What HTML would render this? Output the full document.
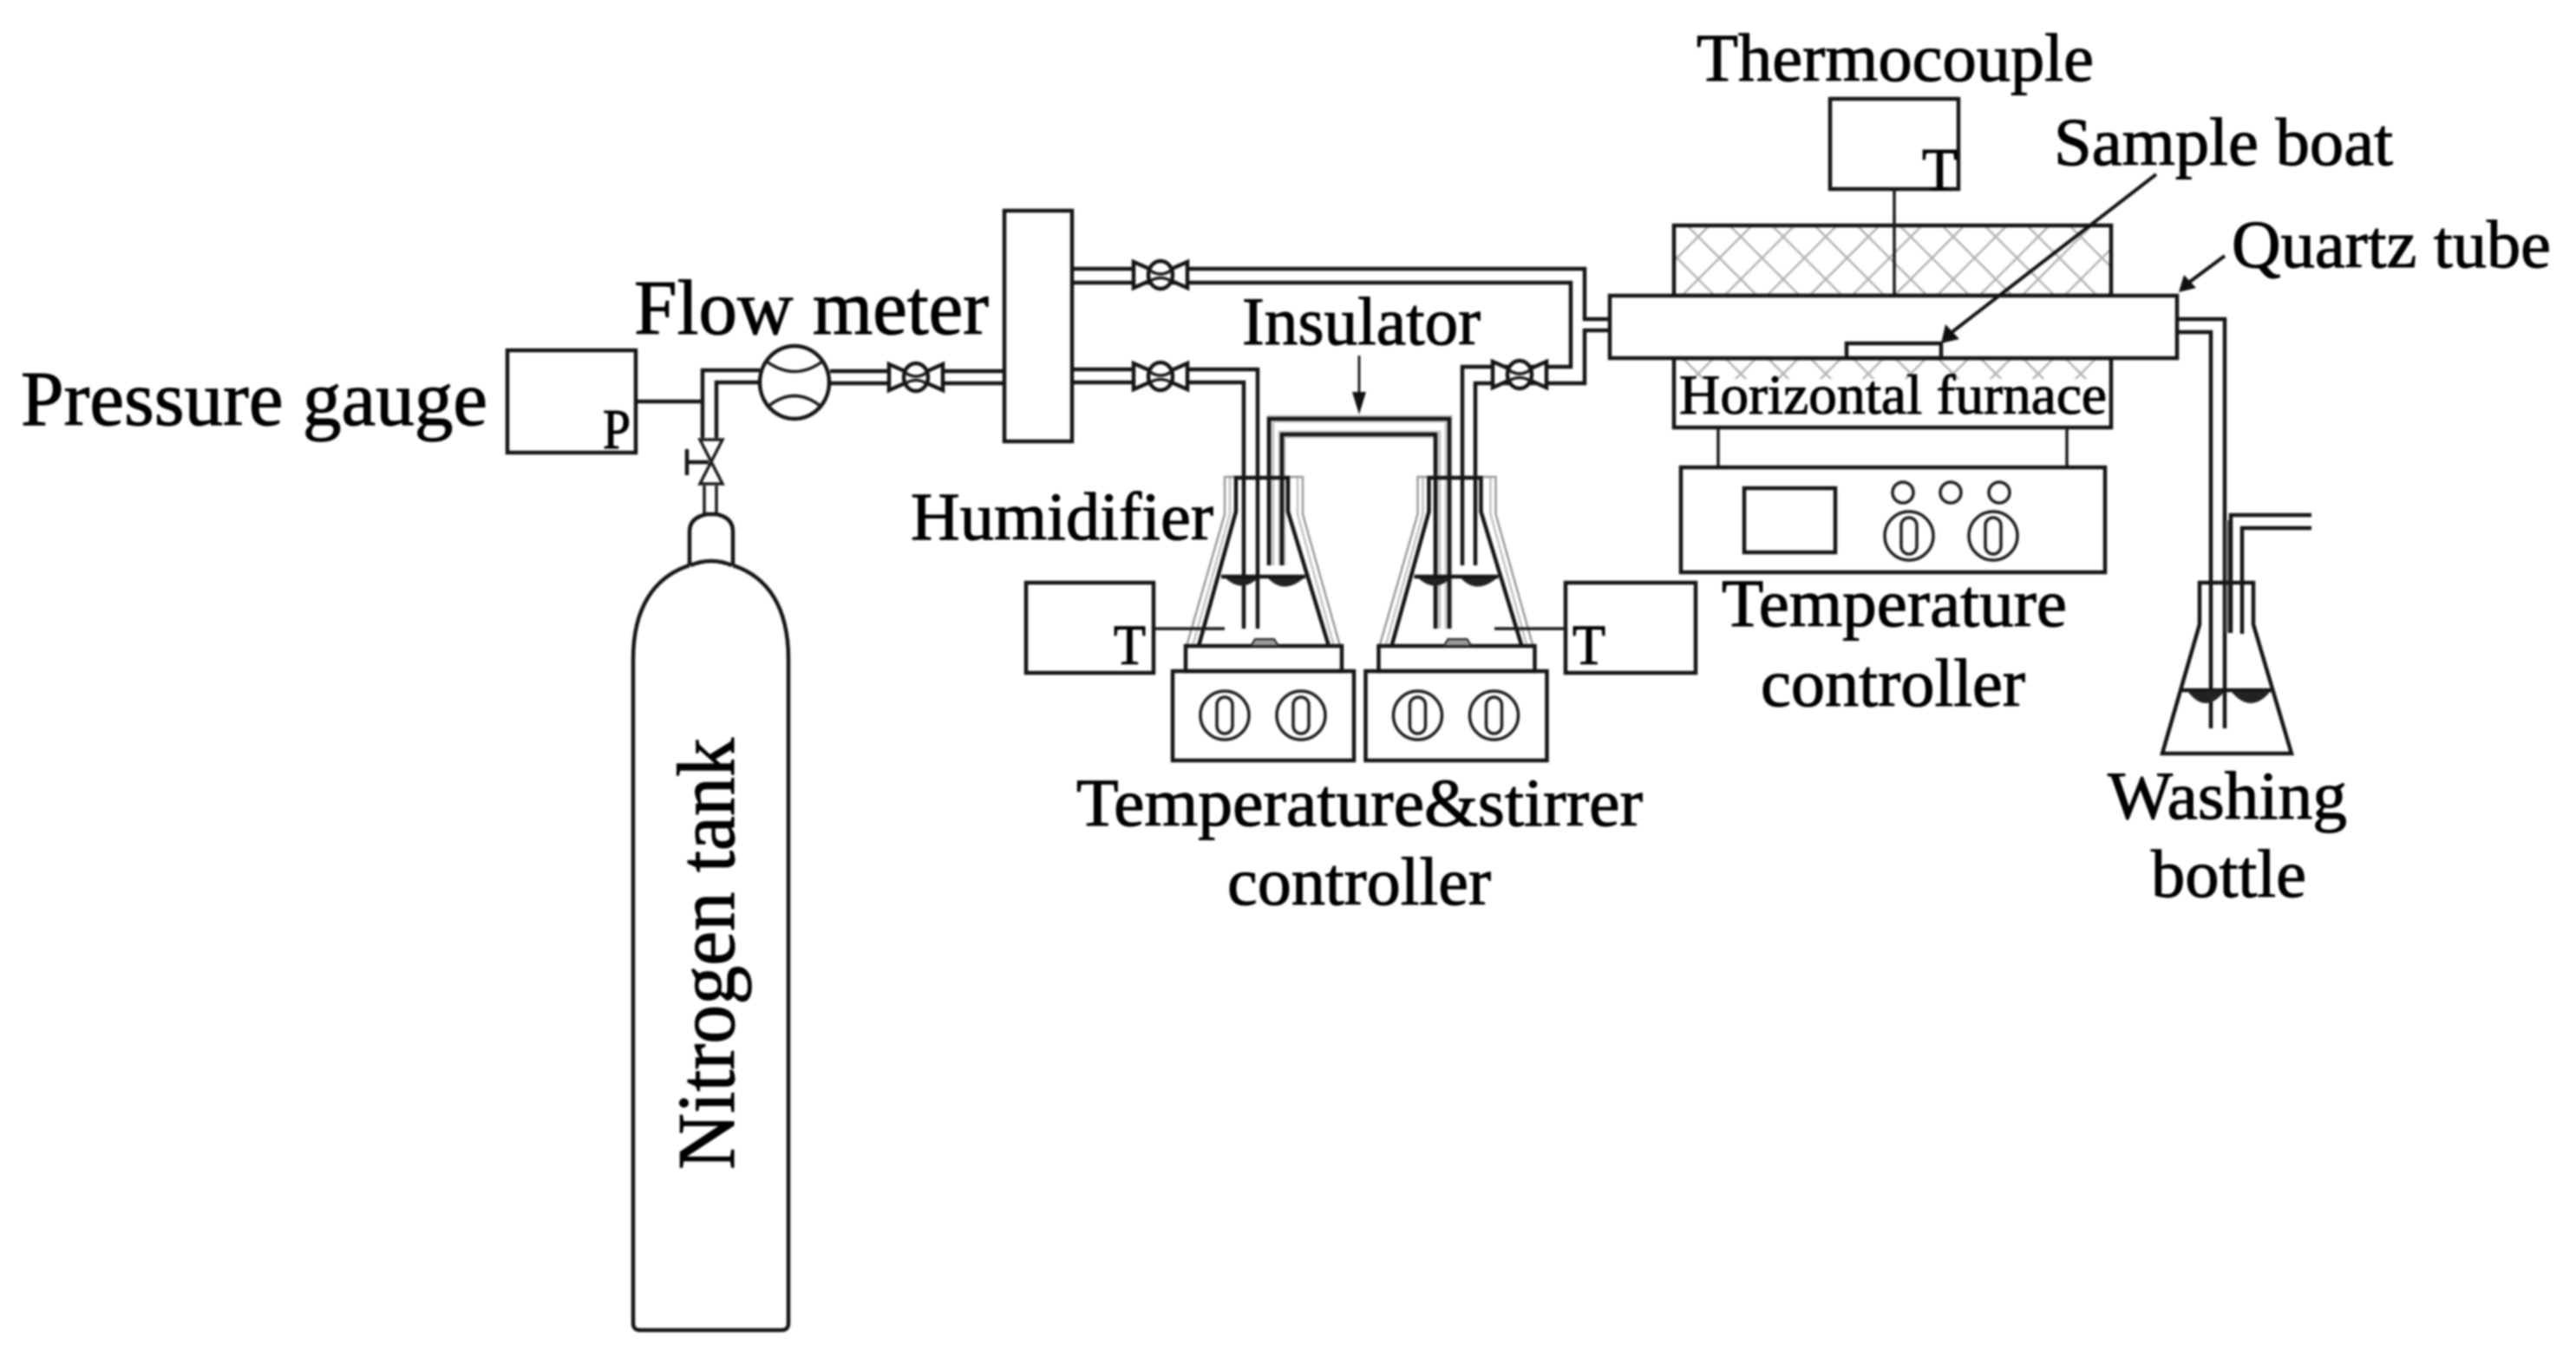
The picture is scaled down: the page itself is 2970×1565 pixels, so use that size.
<!DOCTYPE html>
<html><head><meta charset="utf-8"><style>
html,body{margin:0;padding:0;background:#fff;width:2970px;height:1565px;overflow:hidden}
svg{display:block;filter:blur(1.1px)}
text{font-family:"Liberation Serif",serif;fill:#000;stroke:#000;stroke-width:1.1px}
.l{fill:none;stroke:#141414;stroke-width:4.5}
.t{fill:none;stroke:#1c1c1c;stroke-width:3.5}
.g{fill:none;stroke:#9a9a9a;stroke-width:2.5}
</style></head><body>
<svg width="2970" height="1565" viewBox="0 0 2970 1565" xmlns="http://www.w3.org/2000/svg">
<defs>
<pattern id="h" patternUnits="userSpaceOnUse" x="1958" y="273" width="49" height="49">
<path d="M0,0L49,49M49,0L0,49" stroke="#b4b4b4" stroke-width="2.5" fill="none"/>
</pattern>
<pattern id="h2" patternUnits="userSpaceOnUse" x="1958" y="431" width="49" height="49">
<path d="M0,0L49,49M49,0L0,49" stroke="#b4b4b4" stroke-width="2.5" fill="none"/>
</pattern>
<g id="valve">
<path class="l" style="fill:#fff" d="M-31,-15 L-13,-7 V7 L-31,15 Z M31,-15 L13,-7 V7 L31,15 Z"/>
<ellipse rx="14" ry="16" class="l" style="fill:#fff"/>
<path class="t" d="M-12,-5 Q0,3 12,-5 M-12,7 Q0,0 12,7"/>
</g>
<g id="knob">
<circle r="28" class="t"/>
<rect x="-9" y="-21" width="18" height="42" rx="9" class="t"/>
</g>
<g id="flask">
<path class="g" d="M1368,745 L1412,593 V550 H1502 V593 L1545,745"/>
<path class="g" d="M1375,745 L1418,593 V550 M1496,550 V593 L1538,745" stroke-opacity=".6"/>
<path class="l" d="M1382,745 L1425,590 V551 H1485 V590 L1532,745"/>
<path class="l" d="M1408,665 H1505"/>
<path d="M1413,667 Q1432,684 1450,667 Z M1462,667 Q1480,686 1503,667 Z" fill="#222"/>
<rect x="1367" y="745" width="180" height="29" class="l"/>
<rect x="1352" y="774" width="209" height="103" class="l"/>
<path d="M1442,745 L1447,737 H1469 L1474,745 Z" fill="#999" stroke="#222" stroke-width="2"/>
<use href="#knob" x="1412" y="825"/>
<use href="#knob" x="1500" y="825"/>
</g>
</defs>

<!-- pressure gauge -->
<rect x="585" y="404" width="148" height="118" class="l"/>
<path class="l" d="M733,463 H808"/>
<!-- pipe to flow meter + valve -->
<path class="l" d="M876,427 H810 V505 M876,441 H826 V505"/>
<path class="t" d="M812,560 V593 M826,560 V593"/>
<!-- vertical valve -->
<path class="t" d="M807,507 H833 L807,558 H833 Z"/>
<path class="l" d="M793,533 H817 M792,518 V548"/>
<!-- cylinder -->
<path class="l" d="M795,652 V613 Q795,597 815,593 H826 Q845,597 845,613 V652"/>
<path class="l" d="M796,652 Q820,642 844,652"/>
<path class="l" d="M795,652 C755,665 730,700 730,760 V1526 Q730,1534 738,1534 H901 Q909,1534 909,1526 V760 C909,700 885,665 845,652"/>
<!-- flow meter -->
<ellipse cx="916" cy="441" rx="40" ry="42" class="l"/>
<path class="t" d="M884,417 Q916,440 948,417 M884,470 Q916,443 948,470"/>
<path class="l" d="M957,428 H1158 M957,442 H1158"/>
<use href="#valve" x="1056" y="435"/>
<!-- manifold -->
<rect x="1158" y="243" width="78" height="266" class="l"/>
<!-- lower pipe to humidifier 1 -->
<path class="l" d="M1236,426 H1450 V725 M1236,441 H1434 V725"/>
<use href="#valve" x="1338" y="434"/>
<!-- upper pipe -->
<path class="l" d="M1236,310 H1827 V368 H1856 M1856,381 H1827 V442 H1701 V652 M1236,326 H1811 V423 H1686 V652"/>
<use href="#valve" x="1338" y="317"/>
<use href="#valve" x="1752" y="432"/>
<!-- bridge -->
<path d="M1465,652 V483 H1670 V725 M1478,652 V501 H1657 V725" fill="none" stroke="#888" stroke-width="9" stroke-opacity=".45"/>
<path class="l" d="M1463,652 V483 H1671 V725 M1478,652 V501 H1655 V725"/>
<use href="#flask"/>
<use href="#flask" x="222.5"/>
<!-- T boxes -->
<rect x="1183" y="672" width="147" height="104" class="l"/>
<rect x="1805" y="672" width="150" height="104" class="l"/>
<path class="t" d="M1331,725 H1412 M1723,725 H1805"/>
<!-- insulator arrow -->
<path d="M1567,410 V470" stroke="#222" stroke-width="3" fill="none"/>
<path d="M1559,452 L1575,452 L1567,478 Z" fill="#111"/>
<!-- furnace -->
<rect x="1930" y="260" width="504" height="81" class="l" style="fill:url(#h)"/>
<rect x="1930" y="413" width="504" height="80" style="fill:url(#h2)"/>
<rect x="1930" y="437" width="504" height="56" fill="#fff"/>
<rect x="1930" y="413" width="504" height="80" class="l"/>
<rect x="2110" y="114" width="148" height="104" class="l"/>
<path class="t" d="M2184,218 V341"/>
<rect x="1856" y="341" width="654" height="72" class="l" style="fill:#fff"/>
<rect x="2129" y="396" width="109" height="17" class="l"/>
<path class="t" d="M1981,493 V540 M2383,493 V540"/>
<rect x="1938" y="539" width="489" height="121" class="l"/>
<rect x="2011" y="563" width="105" height="74" class="l"/>
<circle cx="2194" cy="568" r="12" class="t"/><circle cx="2249" cy="568" r="12" class="t"/><circle cx="2305" cy="568" r="12" class="t"/>
<use href="#knob" x="2201" y="618"/><use href="#knob" x="2298" y="618"/>
<!-- arrows -->
<path d="M2486,201 L2248,385" stroke="#111" stroke-width="4" fill="none"/>
<path d="M2238,396 L2243,374 L2259,391 Z" fill="#111"/>
<path d="M2565,295 L2522,327" stroke="#111" stroke-width="4" fill="none"/>
<path d="M2512,337 L2518,317 L2532,332 Z" fill="#111"/>
<!-- outlet pipe -->
<path class="l" d="M2510,368 H2565 V840 M2510,383 H2549 V840"/>
<!-- washing bottle -->
<path d="M2566,600 H2572 V730 H2566 Z" fill="#777"/>
<path class="l" d="M2665,594 H2572 V730 M2665,609 H2585 V731"/>
<path class="l" d="M2493,869 L2536,720 V672 H2598 V720 L2642,869 Z"/>
<path class="l" d="M2516,796 H2620"/>
<path d="M2522,797 Q2543,825 2565,797 Z M2572,797 Q2595,825 2618,797 Z" fill="#222"/>
<!-- labels -->
<text x="24" y="490" font-size="90" textLength="538" lengthAdjust="spacingAndGlyphs">Pressure gauge</text>
<text x="731" y="385" font-size="90" textLength="409" lengthAdjust="spacingAndGlyphs">Flow meter</text>
<text x="695" y="517" font-size="66" textLength="32" lengthAdjust="spacingAndGlyphs">P</text>
<text x="1432" y="397" font-size="78" textLength="275" lengthAdjust="spacingAndGlyphs">Insulator</text>
<text x="1050" y="622" font-size="78" textLength="349" lengthAdjust="spacingAndGlyphs">Humidifier</text>
<text x="1284" y="766" font-size="66" textLength="37" lengthAdjust="spacingAndGlyphs">T</text>
<text x="1813" y="766" font-size="66" textLength="38" lengthAdjust="spacingAndGlyphs">T</text>
<text x="2216" y="219" font-size="70" textLength="41" lengthAdjust="spacingAndGlyphs">T</text>
<text x="1956" y="93" font-size="78" textLength="458" lengthAdjust="spacingAndGlyphs">Thermocouple</text>
<text x="2368" y="190" font-size="78" textLength="391" lengthAdjust="spacingAndGlyphs">Sample boat</text>
<text x="2573" y="308" font-size="78" textLength="368" lengthAdjust="spacingAndGlyphs">Quartz tube</text>
<text x="1936" y="477" font-size="65" textLength="493" lengthAdjust="spacingAndGlyphs">Horizontal furnace</text>
<text x="1985" y="722" font-size="78" textLength="398" lengthAdjust="spacingAndGlyphs">Temperature</text>
<text x="2030" y="814" font-size="78" textLength="305" lengthAdjust="spacingAndGlyphs">controller</text>
<text x="1241" y="952" font-size="78" textLength="653" lengthAdjust="spacingAndGlyphs">Temperature&amp;stirrer</text>
<text x="1415" y="1043" font-size="78" textLength="304" lengthAdjust="spacingAndGlyphs">controller</text>
<text x="2430" y="944" font-size="78" textLength="276" lengthAdjust="spacingAndGlyphs">Washing</text>
<text x="2480" y="1034" font-size="78" textLength="179" lengthAdjust="spacingAndGlyphs">bottle</text>
<text transform="translate(846,1349) rotate(-90)" font-size="94" textLength="498" lengthAdjust="spacingAndGlyphs">Nitrogen tank</text>
</svg>
</body></html>
